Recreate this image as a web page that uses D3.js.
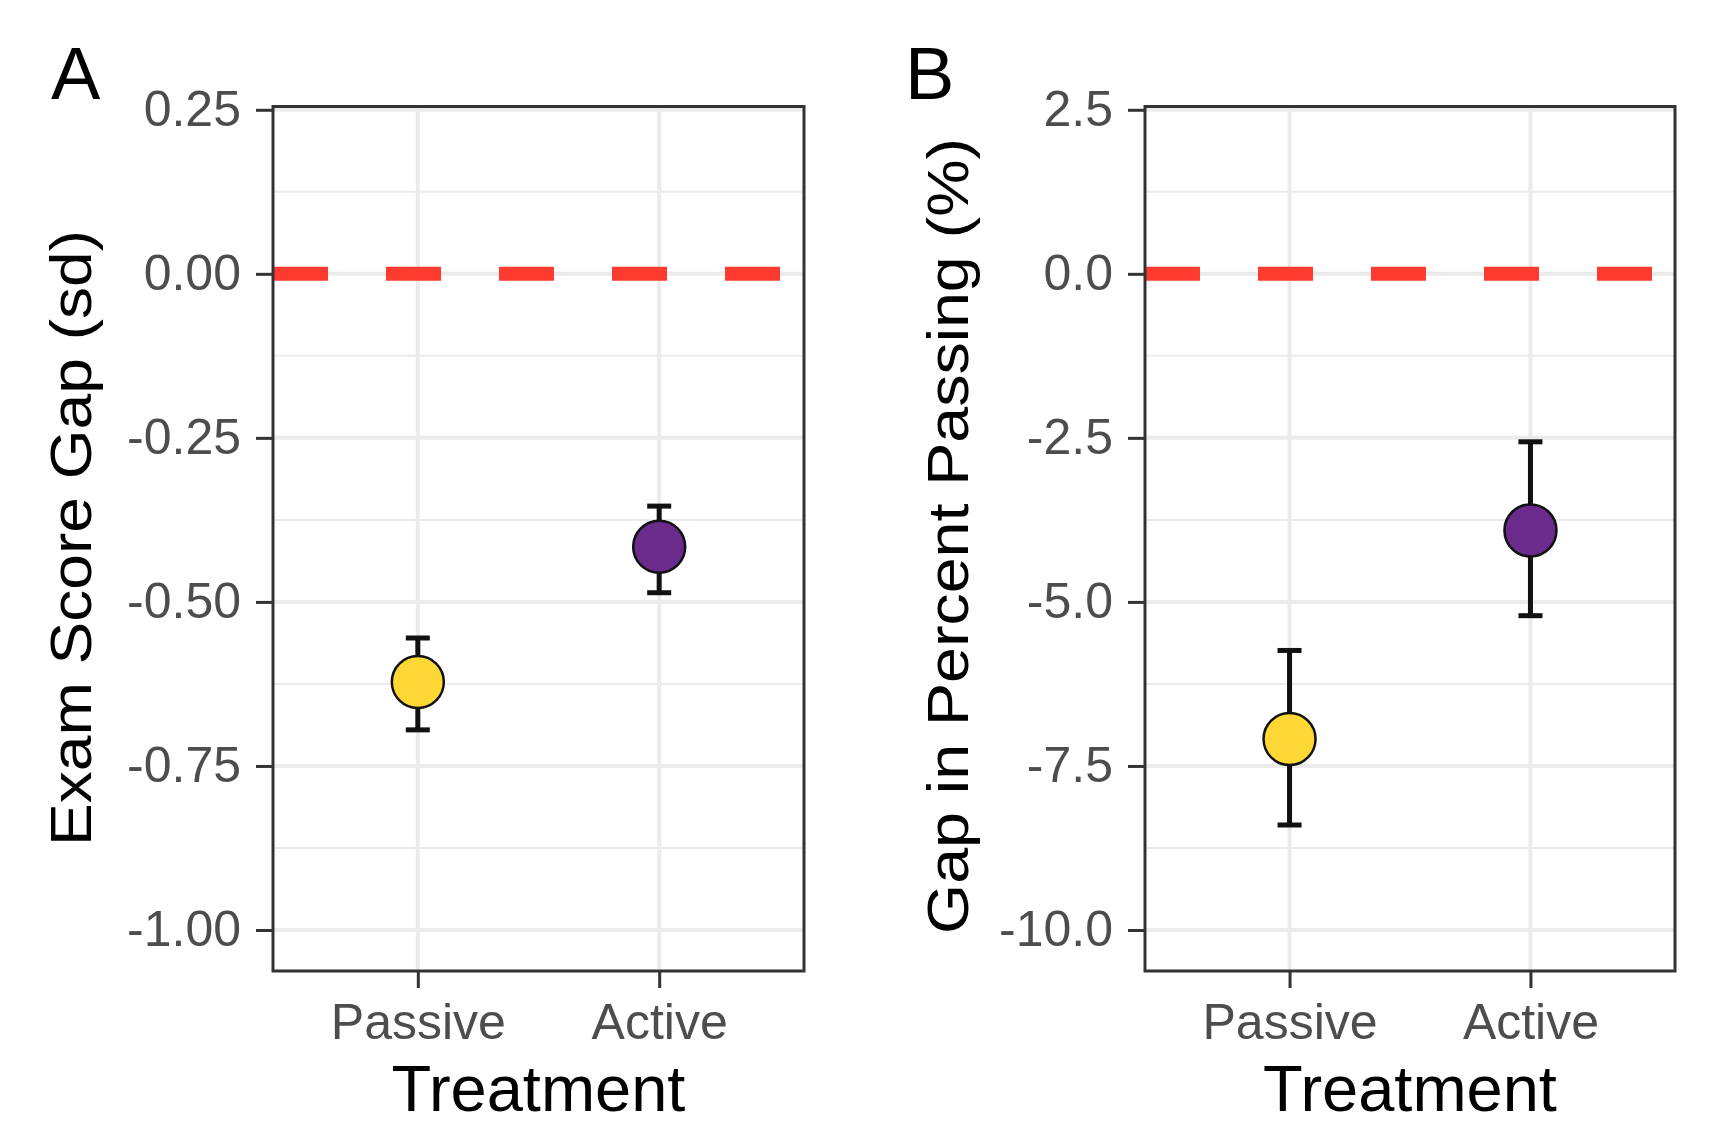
<!DOCTYPE html>
<html>
<head>
<meta charset="utf-8">
<script src="https://cdn.jsdelivr.net/npm/d3@7"></script>
<style>
  body { margin: 0; background: #fff; }
  text { font-family: "Liberation Sans", Arial, sans-serif; }
</style>
</head>
<body>
<div id="container"></div>
<script>
// data
const categories = ["Passive", "Active"];
const colors = ["#FDD835", "#6A2B8D"];

// panel A: exam score gap (sd)
const examGap = [-0.622, -0.416];
const examLow = [-0.695, -0.486];
const examHigh = [-0.555, -0.354];
const examTicks = [0.25, 0, -0.25, -0.5, -0.75, -1.0];
const examTickLabels = ["0.25", "0.00", "-0.25", "-0.50", "-0.75", "-1.00"];
const examMinor = [0.125, -0.125, -0.375, -0.625, -0.875];

// panel B: gap in percent passing
const passGap = [-7.09, -3.91];
const passLow = [-8.40, -5.21];
const passHigh = [-5.74, -2.56];
const passTicks = [2.5, 0, -2.5, -5, -7.5, -10];
const passTickLabels = ["2.5", "0.0", "-2.5", "-5.0", "-7.5", "-10.0"];
const passMinor = [1.25, -1.25, -3.75, -6.25, -8.75];

const W = 1734, H = 1146;
const plotTop = 106.5, plotBottom = 971;

const svg = d3.select("#container")
  .append("svg")
  .attr("width", W)
  .attr("height", H);

function drawPanel(p) {
  const x = d3.scalePoint()
    .domain(categories)
    .range([p.left, p.right])
    .padding(0.6);

  const y = d3.scaleLinear()
    .domain(p.domain)
    .range([plotBottom, plotTop]);

  const g = svg.append("g");

  // minor grid
  g.selectAll(".minor")
    .data(p.minor)
    .join("line")
    .attr("x1", p.left).attr("x2", p.right)
    .attr("y1", d => y(d)).attr("y2", d => y(d))
    .attr("stroke", "#EBEBEB")
    .attr("stroke-width", 2);

  // major grid
  g.selectAll(".majorY")
    .data(p.ticks)
    .join("line")
    .attr("x1", p.left).attr("x2", p.right)
    .attr("y1", d => y(d)).attr("y2", d => y(d))
    .attr("stroke", "#EBEBEB")
    .attr("stroke-width", 4);

  g.selectAll(".majorX")
    .data(categories)
    .join("line")
    .attr("x1", d => x(d)).attr("x2", d => x(d))
    .attr("y1", plotTop).attr("y2", plotBottom)
    .attr("stroke", "#EBEBEB")
    .attr("stroke-width", 4);

  // dashed zero line
  g.append("line")
    .attr("x1", p.left).attr("x2", p.right)
    .attr("y1", y(0)).attr("y2", y(0))
    .attr("stroke", "#FF3B2F")
    .attr("stroke-width", 14)
    .attr("stroke-dasharray", "55,58");

  // error bars
  const bars = g.selectAll(".err")
    .data(categories)
    .join("g");

  bars.append("line")
    .attr("x1", d => x(d)).attr("x2", d => x(d))
    .attr("y1", (d, i) => y(p.low[i]))
    .attr("y2", (d, i) => y(p.high[i]))
    .attr("stroke", "#111")
    .attr("stroke-width", 5);

  bars.append("line")
    .attr("x1", d => x(d) - 12).attr("x2", d => x(d) + 12)
    .attr("y1", (d, i) => y(p.low[i])).attr("y2", (d, i) => y(p.low[i]))
    .attr("stroke", "#111")
    .attr("stroke-width", 5);

  bars.append("line")
    .attr("x1", d => x(d) - 12).attr("x2", d => x(d) + 12)
    .attr("y1", (d, i) => y(p.high[i])).attr("y2", (d, i) => y(p.high[i]))
    .attr("stroke", "#111")
    .attr("stroke-width", 5);

  // points
  g.selectAll(".pt")
    .data(categories)
    .join("circle")
    .attr("cx", d => x(d))
    .attr("cy", (d, i) => y(p.values[i]))
    .attr("r", 26)
    .attr("fill", (d, i) => colors[i])
    .attr("stroke", "#111")
    .attr("stroke-width", 2.5);

  // panel border
  g.append("rect")
    .attr("x", p.left).attr("y", plotTop)
    .attr("width", p.right - p.left)
    .attr("height", plotBottom - plotTop)
    .attr("fill", "none")
    .attr("stroke", "#333")
    .attr("stroke-width", 3);

  // y axis
  const yAxis = g.append("g")
    .attr("transform", `translate(${p.left},0)`)
    .call(d3.axisLeft(y)
      .tickValues(p.ticks)
      .tickFormat((d, i) => p.tickLabels[i])
      .tickSize(17)
      .tickPadding(15));

  // x axis
  const xAxis = g.append("g")
    .attr("transform", `translate(0,${plotBottom})`)
    .call(d3.axisBottom(x).tickSize(17).tickPadding(15));

  [yAxis, xAxis].forEach(a => {
    a.select(".domain").remove();
    a.selectAll(".tick line").attr("stroke", "#333").attr("stroke-width", 3);
    a.selectAll(".tick text")
      .attr("fill", "#4D4D4D")
      .attr("font-size", 50)
      .attr("font-family", "'Liberation Sans', Arial, sans-serif");
  });

  // x title
  g.append("text")
    .attr("x", (p.left + p.right) / 2)
    .attr("y", 1111)
    .attr("text-anchor", "middle")
    .attr("font-size", 65)
    .attr("fill", "#000")
    .text("Treatment");

  // y title
  g.append("text")
    .attr("transform", `translate(${p.left - p.titleOffset},${p.titleCenter}) rotate(-90)`)
    .attr("text-anchor", "middle")
    .attr("font-size", 57)
    .attr("textLength", p.titleLength)
    .attr("lengthAdjust", "spacingAndGlyphs")
    .attr("fill", "#000")
    .text(p.title);

  // panel letter
  g.append("text")
    .attr("x", p.letterX)
    .attr("y", 99)
    .attr("font-size", 74)
    .attr("fill", "#000")
    .text(p.letter);
}

drawPanel({
  left: 273, right: 804,
  domain: [-1.0625, 0.255],
  ticks: examTicks, tickLabels: examTickLabels, minor: examMinor,
  values: examGap, low: examLow, high: examHigh,
  title: "Exam Score Gap (sd)", titleOffset: 182, titleCenter: 538, titleLength: 616,
  letter: "A", letterX: 51
});

drawPanel({
  left: 1145, right: 1675,
  domain: [-10.625, 2.55],
  ticks: passTicks, tickLabels: passTickLabels, minor: passMinor,
  values: passGap, low: passLow, high: passHigh,
  title: "Gap in Percent Passing (%)", titleOffset: 177, titleCenter: 536, titleLength: 796,
  letter: "B", letterX: 905
});
</script>
</body>
</html>
